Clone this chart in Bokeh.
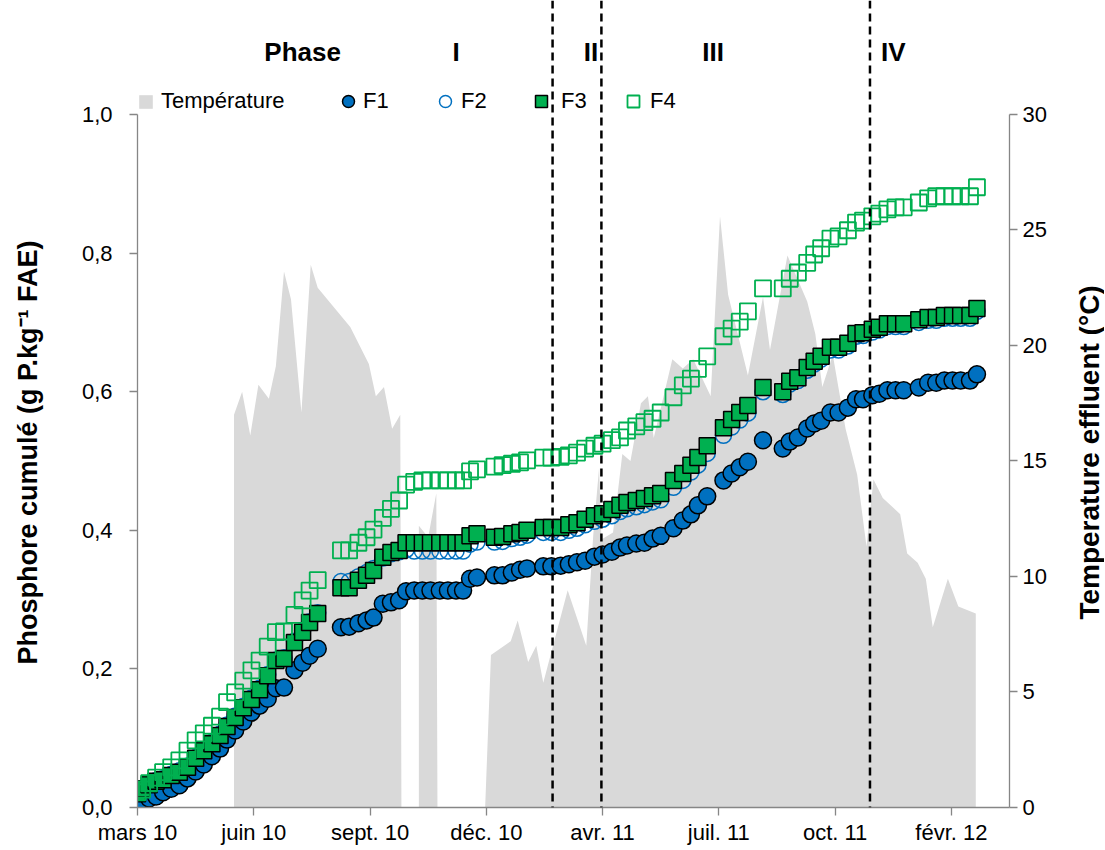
from bokeh.plotting import figure
from bokeh.layouts import row
from bokeh.models import Range1d, LinearAxis, FixedTicker, Span, Label, Legend, LegendItem
from bokeh.embed import file_html
from bokeh.resources import INLINE

# ---- data (x = days since 5 March 2010) ----
days = [0, 4, 10, 16, 22, 29, 36, 43, 50, 57, 64, 71, 77, 84, 91, 98, 105, 112, 119, 126,
        135, 142, 148, 155,
        175, 182, 190, 197, 203, 211, 218, 225,
        231, 238, 245, 252, 260, 267, 274, 280,
        286, 292,
        307, 314, 322, 329, 335,
        349, 356, 364, 371, 378, 385, 393, 400, 408, 415, 421, 429, 436, 443, 450,
        461, 469, 476, 482, 490,
        504, 511, 518, 525,
        538,
        555, 561, 568, 576, 582, 588, 596, 603, 611, 618, 624, 632, 638, 645, 652, 659,
        672, 680, 687, 694, 701, 708, 716, 722]

f1 = [0.001, 0.007, 0.013, 0.016, 0.022, 0.027, 0.032, 0.042, 0.052, 0.062, 0.074, 0.085, 0.098, 0.111,
      0.124, 0.137, 0.147, 0.157, 0.172, 0.173,
      0.198, 0.209, 0.219, 0.229,
      0.260, 0.261, 0.266, 0.270, 0.274, 0.294, 0.296, 0.299,
      0.312, 0.313, 0.313, 0.313, 0.313, 0.313, 0.313, 0.313,
      0.330, 0.332,
      0.335, 0.335, 0.339, 0.343, 0.345,
      0.348, 0.348, 0.349, 0.351, 0.354, 0.356, 0.362, 0.365, 0.369, 0.375, 0.378, 0.381, 0.382, 0.388, 0.392,
      0.403, 0.414, 0.423, 0.436, 0.449,
      0.472, 0.482, 0.491, 0.499,
      0.530,
      0.518, 0.528, 0.534, 0.547, 0.554, 0.558, 0.570, 0.570, 0.577, 0.589, 0.589, 0.595, 0.597, 0.602, 0.602, 0.602,
      0.606, 0.613, 0.613, 0.616, 0.616, 0.616, 0.616, 0.625]

f2 = [0.021, 0.027, 0.034, 0.039, 0.042, 0.048, 0.053, 0.060, 0.072, 0.083, 0.094, 0.106, 0.119, 0.132,
      0.146, 0.158, 0.172, 0.192, 0.213, 0.216,
      0.240, 0.255, 0.268, 0.281,
      0.326, 0.326, 0.333, 0.339, 0.345, 0.360, 0.366, 0.369,
      0.372, 0.370, 0.370, 0.370, 0.370, 0.370, 0.370, 0.370,
      0.380, 0.383,
      0.383, 0.384, 0.388, 0.390, 0.393,
      0.397, 0.397, 0.397, 0.400, 0.403, 0.408, 0.413, 0.416, 0.421, 0.427, 0.431, 0.434, 0.437, 0.441, 0.444,
      0.462, 0.472, 0.484, 0.494, 0.511,
      0.537, 0.549, 0.559, 0.569,
      0.600,
      0.596, 0.611, 0.616, 0.631, 0.640, 0.647, 0.660, 0.660, 0.666, 0.680, 0.681, 0.686, 0.689, 0.694, 0.694, 0.694,
      0.700, 0.703, 0.703, 0.706, 0.706, 0.706, 0.706, 0.716]

f3 = [0.020, 0.027, 0.033, 0.038, 0.040, 0.046, 0.051, 0.058, 0.071, 0.082, 0.092, 0.104, 0.117, 0.130,
      0.144, 0.156, 0.170, 0.190, 0.212, 0.215,
      0.238, 0.253, 0.267, 0.280,
      0.317, 0.317, 0.328, 0.335, 0.342, 0.361, 0.368, 0.371,
      0.382, 0.382, 0.382, 0.382, 0.382, 0.382, 0.382, 0.382,
      0.392, 0.395,
      0.390, 0.391, 0.395, 0.397, 0.400,
      0.404, 0.404, 0.404, 0.408, 0.411, 0.416, 0.421, 0.424, 0.430, 0.436, 0.440, 0.443, 0.446, 0.450, 0.453,
      0.472, 0.482, 0.494, 0.505, 0.522,
      0.548, 0.560, 0.570, 0.580,
      0.606,
      0.600, 0.615, 0.620, 0.635, 0.644, 0.651, 0.664, 0.664, 0.670, 0.684, 0.685, 0.690, 0.693, 0.698, 0.698, 0.698,
      0.704, 0.707, 0.707, 0.710, 0.710, 0.710, 0.710, 0.720]

f4 = [0.022, 0.026, 0.035, 0.043, 0.051, 0.058, 0.068, 0.082, 0.097, 0.107, 0.118, 0.131, 0.152, 0.166,
      0.183, 0.198, 0.212, 0.232, 0.253, 0.254,
      0.278, 0.299, 0.313, 0.328,
      0.371, 0.371, 0.382, 0.390, 0.401, 0.418, 0.431, 0.443,
      0.466, 0.470, 0.472, 0.472, 0.472, 0.472, 0.472, 0.472,
      0.485, 0.488,
      0.492, 0.494, 0.496, 0.498, 0.501,
      0.505, 0.505, 0.506, 0.508, 0.512, 0.518, 0.522, 0.525, 0.530, 0.534, 0.544, 0.550, 0.556, 0.561, 0.570,
      0.592, 0.609, 0.619, 0.633, 0.651,
      0.680, 0.691, 0.701, 0.716,
      0.749,
      0.749, 0.763, 0.772, 0.786, 0.798, 0.807, 0.821, 0.824, 0.833, 0.844, 0.847, 0.853, 0.857, 0.863, 0.866, 0.866,
      0.873, 0.879, 0.882, 0.882, 0.882, 0.882, 0.882, 0.895]

temp_days = [83, 83, 90, 97, 104, 113, 119, 126, 132, 141, 149, 155, 183, 199, 205, 212, 219, 226, 227,
             242, 242, 250, 257, 258,
             299, 304, 321, 327, 336, 343, 349, 370, 386, 392, 397, 399, 409, 417, 424, 433, 439, 444,
             460, 469, 478, 493, 501, 508, 525, 538, 544, 559, 576, 583, 589, 598, 609, 619, 627, 633,
             641, 656, 662, 671, 678, 684, 697, 706, 721, 721]
temp_vals = [0, 17.0, 18.0, 16.1, 18.3, 17.7, 19.1, 23.2, 22.0, 17.1, 23.5, 22.5, 20.8, 19.2, 17.8, 18.2, 16.4, 17.0, 0,
             0, 12.2, 11.7, 13.6, 0,
             0, 6.6, 7.2, 8.1, 6.3, 7.0, 5.4, 9.4, 7.0, 11.8, 14.7, 11.6, 11.9, 15.3, 15.0, 17.5, 17.8, 16.0,
             19.4, 19.0, 19.4, 17.8, 25.6, 22.2, 18.7, 22.1, 19.8, 23.9, 21.9, 20.5, 18.2, 19.6, 16.4, 14.4, 11.3, 14.2,
             13.4, 12.7, 11.0, 10.6, 9.9, 7.8, 9.9, 8.7, 8.4, 0]

x_ticks = [0, 100, 200, 300, 400, 500, 600, 700]
x_tick_labels = ["mars 10", "juin 10", "sept. 10", "déc. 10", "avr. 11", "juil. 11", "oct. 11", "févr. 12"]
y_ticks = [0, 0.2, 0.4, 0.6, 0.8, 1.0]
y_tick_labels = ["0,0", "0,2", "0,4", "0,6", "0,8", "1,0"]
t_ticks = [0, 5, 10, 15, 20, 25, 30]

phase_bounds = [357, 399, 630]
phase_names = ["Phase", "I", "II", "III", "IV"]
phase_x = [142, 274, 390, 495, 650]

y_title = "Phosphore cumulé (g P.kg⁻¹ FAE)"
y2_title = "Temperature effluent (°C)"

BLUE = "#0070C0"
GREEN = "#00B050"
GREY = "#D9D9D9"
AXIS = "#868686"
FONT = "Liberation Sans"

H = 847
LW, MW, RW = 50, 1015, 39
Y_END = 1.1645
Y_START_SIDE = -40 / 693.0

p = figure(width=MW, height=H, x_range=Range1d(0, 750), y_range=Range1d(0, Y_END),
           output_backend="svg", toolbar_location=None,
           min_border_left=87, min_border_right=56, min_border_top=0, min_border_bottom=40)
p.extra_y_ranges = {"temp": Range1d(0, 30 * Y_END)}
p.outline_line_color = None
p.xgrid.visible = False
p.ygrid.visible = False

r_temp = p.varea(x=temp_days, y1=0, y2=temp_vals, y_range_name="temp", fill_color=GREY)

for s in phase_bounds:
    p.add_layout(Span(location=s, dimension="height", line_color="black", line_width=2.5, line_dash="8 5"))

r1 = p.scatter(days, f1, marker="circle", size=17, fill_color=BLUE, line_color="black", line_width=1.5)
r2 = p.scatter(days, f2, marker="circle", size=16, fill_color=None, line_color=BLUE, line_width=1.5)
r3 = p.scatter(days, f3, marker="square", size=16, fill_color=GREEN, line_color="black", line_width=1.5)
r4 = p.scatter(days, f4, marker="square", size=16, fill_color=None, line_color=GREEN, line_width=1.8)

# axes
xa = p.xaxis[0]
xa.ticker = FixedTicker(ticks=x_ticks)
xa.major_label_overrides = {t: l for t, l in zip(x_ticks, x_tick_labels)}
ya = p.yaxis[0]
ya.ticker = FixedTicker(ticks=y_ticks)
ya.major_label_overrides = {t: l for t, l in zip(y_ticks, y_tick_labels)}
ya.bounds = (0, 1)
ra = LinearAxis(y_range_name="temp", ticker=FixedTicker(ticks=t_ticks), bounds=(0, 30))
p.add_layout(ra, "right")

for ax in (xa, ya, ra):
    ax.axis_line_color = AXIS
    ax.axis_line_width = 1.3
    ax.major_tick_line_color = AXIS
    ax.major_tick_line_width = 1.3
    ax.major_tick_out = 8
    ax.major_tick_in = 0
    ax.minor_tick_line_color = None
    ax.major_label_text_font = FONT
    ax.major_label_text_font_size = "22px"
    ax.major_label_text_color = "black"
xa.major_label_standoff = 4
ya.major_label_standoff = 17
ra.major_label_standoff = 5

# phase labels
for name, px in zip(phase_names, phase_x):
    p.add_layout(Label(x=px, y=1.0895, text=name, text_font=FONT, text_font_size="26px",
                       text_color="black", text_font_style="bold", text_align="center",
                       text_baseline="middle"))

# legend, one entry per box for exact placement
legend_specs = [("Température", r_temp, 0, 17, 7, 693),
                ("F1", r1, 196, 30, 0, 691),
                ("F2", r2, 293, 30, 1, 691),
                ("F3", r3, 389, 30, 5, 691),
                ("F4", r4, 481, 30, 2, 691)]
for lab, rr, lx, gsz, stand, ly in legend_specs:
    lg = Legend(items=[LegendItem(label=lab, renderers=[rr])], location=(lx, ly),
                orientation="horizontal", padding=0, margin=0, spacing=0,
                border_line_color=None, background_fill_alpha=0,
                label_text_font=FONT, label_text_font_size="22px", label_text_color="black",
                glyph_width=gsz, glyph_height=gsz, label_standoff=stand, label_height=gsz)
    p.add_layout(lg)


# narrow side panels holding the rotated axis titles, aligned on the same y scale
def title_panel(width, text, xpos, fsize):
    f = figure(width=width, height=H, x_range=Range1d(0, width), y_range=Range1d(Y_START_SIDE, Y_END),
               output_backend="svg", toolbar_location=None, min_border=0)
    f.axis.visible = False
    f.grid.visible = False
    f.outline_line_color = None
    f.add_layout(Label(x=xpos, y=0.48, text=text, angle=90, angle_units="deg",
                       text_font=FONT, text_font_size=fsize, text_font_style="bold",
                       text_color="black", text_align="center", text_baseline="middle"))
    return f


left_t = title_panel(LW, y_title, 27, "27px")
right_t = title_panel(RW, y2_title, 24, "28px")

layout = row(left_t, p, right_t, spacing=0)
open("out.html", "w").write(file_html(layout, INLINE))
